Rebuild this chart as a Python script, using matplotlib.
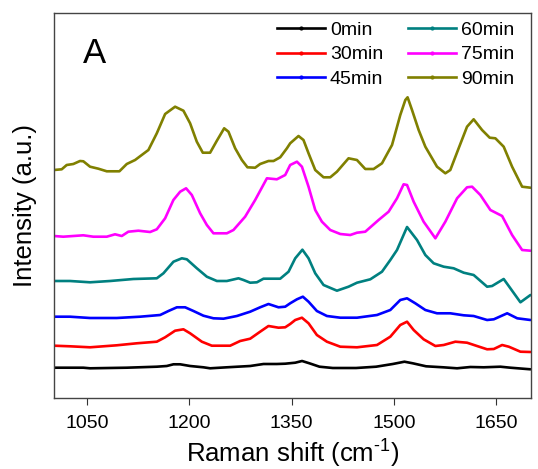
import matplotlib
matplotlib.use("Agg")
import matplotlib.pyplot as plt
from matplotlib.lines import Line2D

plt.rcParams["font.family"] = ["Liberation Sans", "DejaVu Sans"]

# ==========================================
# DATOS
# ==========================================

wn_0 = [1002, 1045, 1054.8, 1108.6, 1152.6, 1167.2, 1177, 1186.8, 1201.4, 1220.9,
        1230.7, 1255.2, 1289.4, 1308.9, 1328.5, 1340.7, 1355.4, 1365.4, 1376.2,
        1390.9, 1410.4, 1444.6, 1473.9, 1498.3, 1515.4, 1527.6, 1547.1, 1572.1,
        1592.5, 1612, 1631.5, 1655.9, 1670.6, 1700]
int_0 = [30.3, 30.3, 29.7, 30.3, 31.3, 32, 33.7, 33.7, 32, 30.7,
         29.7, 30.7, 32, 34, 34, 34.3, 35.3, 37, 34.7,
         31.3, 30, 30, 31.3, 34, 36.3, 34.7, 31.7, 30.7,
         29.7, 31, 30.7, 31.3, 30.3, 28.7]

wn_30 = [1002, 1025.5, 1054.8, 1093.9, 1123.2, 1152.6, 1164.8, 1179.4, 1191.6,
         1201.4, 1218.6, 1233.2, 1260.1, 1274.7, 1289.4, 1304, 1316.2, 1330.9,
         1340.7, 1348, 1355.4, 1365.2, 1374.9, 1387.1, 1401.8, 1421.4, 1445.9,
         1475.2, 1494.7, 1509.3, 1519.2, 1528.9, 1543.5, 1560.7, 1572.9, 1590,
         1607.1, 1621.7, 1636.5, 1646.3, 1658.5, 1668.3, 1685.3, 1700]
int_30 = [52.3, 51.7, 50.7, 52.7, 54.7, 56.3, 60.7, 67.3, 68.7,
          64.7, 56.3, 52.3, 52.3, 57, 59.3, 66.3, 72, 70.3,
          70.7, 74, 78, 80.3, 74.7, 63, 56.3, 51.3, 50.7,
          53, 61.3, 73, 76.3, 68, 58.7, 52, 53, 56.3,
          55.3, 52, 48.7, 49, 53, 51.3, 46.3, 46]

wn_45 = [1002, 1025.5, 1054.8, 1093.9, 1128.1, 1157.5, 1169.7, 1182, 1194.1,
         1206.3, 1220.9, 1235.6, 1250.3, 1269.9, 1289.4, 1304, 1316.2, 1330.9,
         1340.7, 1348, 1357.9, 1366.6, 1374.9, 1387.1, 1401.8, 1421.4, 1445.9,
         1475.2, 1494.7, 1509.3, 1519.2, 1531.3, 1546, 1563.1, 1582.6, 1602.2,
         1616.8, 1636.5, 1646.3, 1665.9, 1680.6, 1700]
int_45 = [81.3, 81.3, 80, 80, 81.3, 83, 87, 90.7, 90.7,
          87, 82.3, 79.7, 79.3, 82, 86.3, 90.7, 94, 90.7,
          91.3, 94.7, 98.7, 101.3, 96.3, 87, 82, 80.3, 80.3,
          83, 88, 98, 99.7, 94.7, 88, 84.7, 84.7, 82.7,
          82, 78, 78.7, 84.7, 79.7, 78]

wn_60 = [1002, 1025.5, 1054.8, 1084.1, 1118.3, 1152.6, 1162.3, 1177, 1189.3,
         1196.6, 1211.3, 1225.9, 1240.6, 1255.2, 1272.3, 1279.6, 1289.4, 1299.2,
         1308.9, 1333.4, 1345.6, 1355.4, 1365.9, 1374.9, 1384.7, 1396.9, 1416.5,
         1433.5, 1445.9, 1465.4, 1482.5, 1494.7, 1504.5, 1519.2, 1533.8, 1546,
         1558.2, 1572.9, 1587.5, 1602.2, 1616.8, 1636.5, 1643.8, 1660.8, 1670.6,
         1685.3, 1700]
int_60 = [117, 117, 115.7, 117, 119, 119.7, 124.7, 136.3, 139.7,
          138.7, 129.7, 121.3, 117, 117, 119.7, 118, 115.3, 115.7,
          119.3, 119.3, 126.3, 139.7, 148.3, 139.7, 124.7, 113, 107.3,
          111.3, 115.3, 118.7, 126.3, 138, 148, 171, 158, 143,
          134.7, 131.3, 129.7, 125.3, 123, 111.3, 112, 119, 109.7,
          95.7, 103]

wn_75 = [1002, 1015.6, 1044.9, 1059.6, 1079.3, 1091.4, 1101.3, 1110.9, 1125.6,
         1142.8, 1152.6, 1164.8, 1176.9, 1186.8, 1195.5, 1203.9, 1216.1, 1225.9,
         1235.6, 1255.2, 1264.9, 1282, 1296.7, 1313.9, 1328.5, 1340.7, 1348,
         1357.9, 1365.2, 1374.9, 1384.7, 1394.5, 1406.7, 1421.4, 1436, 1445.9,
         1458, 1477.5, 1492.2, 1504.5, 1514.2, 1519.2, 1528.9, 1543.5, 1560.7,
         1575.3, 1592.5, 1607.1, 1614.5, 1626.6, 1641.3, 1658.5, 1673.1, 1687.8,
         1700]
int_75 = [162, 161.3, 162.7, 161.3, 161.3, 163.7, 162, 166.3, 167.3,
          166, 168.7, 179.7, 198, 206.3, 209.7, 203, 184.7, 173,
          164.7, 164.7, 168, 181.3, 198, 219.7, 218.7, 223, 233,
          236.3, 231.3, 211.3, 188, 176.3, 168, 164, 163, 165.3,
          166.3, 178, 186.3, 199.7, 213.7, 213, 196.3, 176.3, 159.7,
          176.3, 199.7, 210.7, 211.3, 203, 188, 182, 163, 148,
          147.3]

wn_90 = [1002, 1013.3, 1020.6, 1030.3, 1040.1, 1045, 1054.8, 1067, 1079.3, 1097.8,
         1108.6, 1120.8, 1140.3, 1152.6, 1164.8, 1179.4, 1191.6, 1201.4, 1211.2,
         1220, 1230.7, 1240.6, 1251.3, 1257.6, 1267.4, 1277.2, 1285.4, 1296.7,
         1304, 1316.2, 1323.6, 1333.4, 1343.2, 1348, 1360.2, 1367.5, 1374.9,
         1384.7, 1396.9, 1406.7, 1416.5, 1433.5, 1445.8, 1458, 1470.2, 1482.5,
         1497.2, 1509.3, 1516.7, 1520, 1526.5, 1536.2, 1546, 1563.1, 1575.3,
         1582.6, 1594.8, 1607.1, 1616.8, 1629.1, 1640.3, 1648.6, 1660.8, 1673.1,
         1687.8, 1700]
int_90 = [228, 228.7, 233, 234, 237, 236.7, 231.3, 229.3, 226.7, 226.7,
          234, 238, 248, 264.7, 284, 291.3, 287.3, 274.7, 256.3,
          245.3, 245.3, 257.3, 269.7, 266.3, 249.7, 238, 230.7, 230.3,
          234, 237, 237, 240.7, 249.7, 254.7, 262, 258, 244.7,
          228, 220.7, 220.7, 226.3, 239.7, 238, 229, 229, 234.7,
          253, 283, 298, 300.7, 288, 268, 251.3, 231.3, 224.7,
          228, 249.7, 271.3, 278.7, 268, 260.3, 259.7, 251.3, 231.3,
          211.3, 210.3]

etiquetas = ["0min", "30min", "45min", "60min", "75min", "90min"]
colores = ["#000000", "#ff0000", "#0000ff", "#008080", "#ff00ff", "#808000"]

series = [
    (wn_0, int_0),
    (wn_30, int_30),
    (wn_45, int_45),
    (wn_60, int_60),
    (wn_75, int_75),
    (wn_90, int_90),
]

# ==========================================
# GRAFICA
# ==========================================

fig = plt.figure(figsize=(5.38, 4.69), dpi=100)
ax = fig.add_axes([54 / 538, 71 / 469, 477 / 538, 385 / 469])

for (x, y), c in zip(series, colores):
    ax.plot(x, y, color=c, linewidth=1.9,
            solid_joinstyle="round", solid_capstyle="round")

ax.set_xlim(1002, 1700.8)
ax.set_ylim(0, 385)

ax.set_xticks([1050, 1200, 1350, 1500, 1650])
ax.set_yticks([])
ax.tick_params(axis="x", direction="out", length=5, width=0.8,
               labelsize=14, pad=7, color="#333333")

for s in ax.spines.values():
    s.set_color("#444444")
    s.set_linewidth(1.0)

ax.set_xlabel("Raman shift (cm$^{\\mathregular{\u2010 1}}$)", fontsize=18.5, labelpad=3)
ax.set_ylabel("Intensity (a.u.)", fontsize=18.5, labelpad=12)

ax.text(0.061, 0.87, "A", transform=ax.transAxes, fontsize=25,
        ha="left", va="baseline")

handles = [
    Line2D([], [], color=c, linewidth=1.9, marker="o", markersize=2)
    for c in colores
]
ax.legend(handles, etiquetas, ncol=2, loc="upper right", frameon=False,
          fontsize=14, handlelength=2.45, handletextpad=0.27,
          columnspacing=1.3, labelspacing=0.36, borderaxespad=0,
          bbox_to_anchor=(0.982, 0.999), numpoints=1)

plt.savefig("out.png", dpi=100)
